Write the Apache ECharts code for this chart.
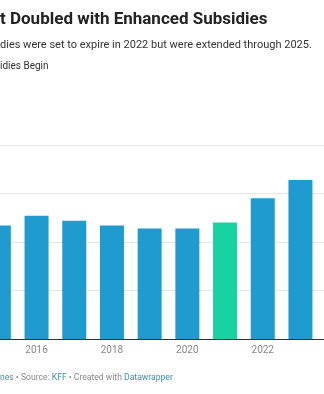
<!DOCTYPE html>
<html>
<head>
<meta charset="utf-8">
<script src="https://cdn.jsdelivr.net/npm/echarts@6/dist/echarts.min.js"></script>
<style>
html,body{margin:0;padding:0;background:#fff;overflow:hidden;width:324px;height:394px;}
#wrap{position:relative;width:324px;height:394px;overflow:hidden;}
#chart{position:absolute;left:-20px;top:0;width:400px;height:394px;}
</style>
</head>
<body>
<div id="wrap"><div id="chart"></div></div>
<script>
// Data (millions of enrollees), visible portion of the chart
const years = ['2015','2016','2017','2018','2019','2020','2021','2022','2023','2024'];
const enrollment = [11.7, 12.7, 12.2, 11.7, 11.4, 11.4, 12.0, 14.5, 16.4, null];
const highlightYear = '2021';
const yTicks = [0, 5, 10, 15, 20];

const titleText = 't Doubled with Enhanced Subsidies';
const subtitleText = 'dies were set to expire in 2022 but were extended through 2025.';
const legendText = 'idies Begin';

const BLUE = '#1f9bcf';
const GREEN = '#16d3a1';
const OFF = 20; // chart canvas is shifted left by this many px

const chart = echarts.init(document.getElementById('chart'), null, {renderer: 'canvas'});
chart.setOption({
  animation: false,
  textStyle: {fontFamily: 'Roboto'},
  grid: {left: 0, width: 377, top: 145, bottom: 55, containLabel: false},
  xAxis: {
    type: 'category',
    data: years,
    axisLine: {show: true, lineStyle: {color: '#333', width: 1}},
    axisTick: {show: false},
    axisLabel: {
      color: '#888',
      fontSize: 10,
      margin: 6,
      interval: (i, v) => Number(v) % 2 === 0
    }
  },
  yAxis: {
    type: 'value',
    min: yTicks[0],
    max: yTicks[yTicks.length - 1],
    interval: 5,
    axisLabel: {show: false},
    axisLine: {show: false},
    axisTick: {show: false},
    splitLine: {lineStyle: {color: '#e6e6e6', width: 1}}
  },
  series: [{
    type: 'bar',
    data: enrollment,
    barWidth: 24,
    itemStyle: {
      color: p => (p.name === highlightYear ? GREEN : BLUE)
    }
  }],
  graphic: [
    {type: 'text', left: OFF, top: 11, style: {text: titleText, fontFamily: 'Roboto', fontWeight: 'bold', fontSize: 17, fill: '#222'}},
    {type: 'text', left: OFF, top: 40, style: {text: subtitleText, fontFamily: 'Roboto', fontSize: 11, fill: '#333'}},
    {type: 'text', left: OFF, top: 61, style: {text: legendText, fontFamily: 'Roboto', fontSize: 10, fill: '#333'}},
    {type: 'text', left: OFF, top: 373, style: {
      text: '{l|nes}{g| • Source: }{l|KFF}{g| • Created with }{l|Datawrapper}',
      fontFamily: 'Roboto', fontSize: 8.6,
      rich: {
        l: {fill: '#3d8fb0', fontSize: 8.6, fontFamily: 'Roboto'},
        g: {fill: '#888', fontSize: 8.6, fontFamily: 'Roboto'}
      }
    }}
  ]
});
</script>
</body>
</html>
